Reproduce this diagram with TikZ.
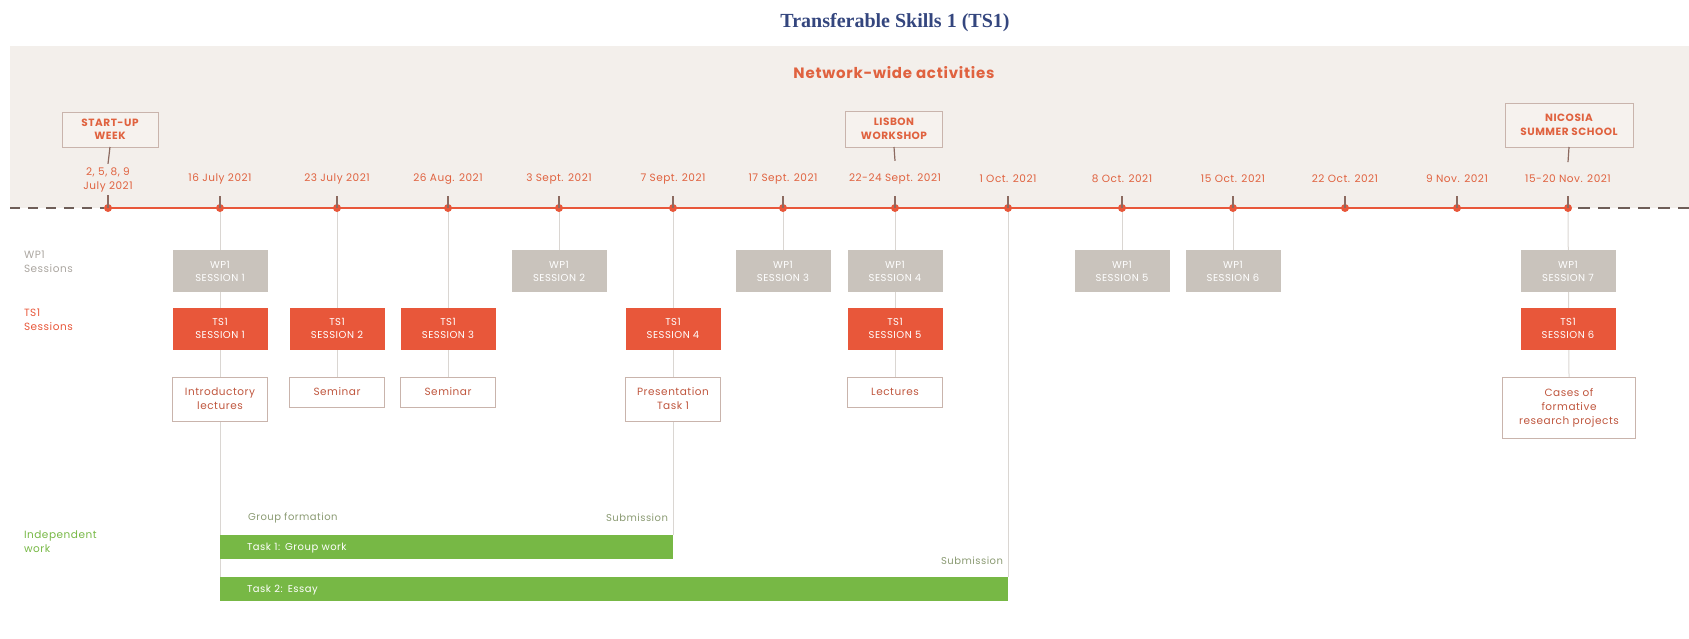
\documentclass[tikz,border=0pt]{standalone}
\usepackage{fontspec}
\setmainfont{Poppins}[LetterSpace=5]
\newfontfamily\titlefont{Liberation Serif}
\usetikzlibrary{positioning}
\pgfdeclarelayer{back}
\pgfdeclarelayer{lines}
\pgfsetlayers{back,lines,main}
\definecolor{tsorange}{HTML}{E8573A}
\definecolor{txtorange}{HTML}{E0623F}
\definecolor{wpgray}{HTML}{C9C3BC}
\definecolor{bgbeige}{HTML}{F3EFEB}
\definecolor{evfill}{HTML}{F6F2EE}
\definecolor{tgreen}{HTML}{77B845}
\definecolor{tblue}{HTML}{34467E}
\definecolor{vlinec}{HTML}{DAD6D2}
\definecolor{descbrd}{HTML}{C9B4AC}
\definecolor{desctxt}{HTML}{C0573F}
\definecolor{dashc}{HTML}{6E5E58}
\definecolor{tickc}{HTML}{8C6A60}
\definecolor{subc}{HTML}{8A9A72}
\begin{document}
\begin{tikzpicture}[x=1pt,y=-1pt,
  every node/.style={inner sep=0pt,outer sep=0pt},
  datelbl/.style={font=\fontsize{10.5}{14}\selectfont,text=txtorange,align=center},
  dot/.style={circle,fill=tsorange,minimum size=8pt},
  tickln/.style={draw=tickc,line width=1.2pt},
  evbox/.style={draw=descbrd,line width=1pt,fill=evfill,align=center,text=txtorange,font=\fontsize{10.5}{13.5}\selectfont\bfseries},
  wpbox/.style={fill=wpgray,minimum width=95pt,minimum height=42pt,text=white,align=center,font=\fontsize{10}{13}\selectfont},
  tsbox/.style={fill=tsorange,minimum width=95pt,minimum height=42pt,text=white,align=center,font=\fontsize{10}{13}\selectfont},
  descbox/.style={draw=descbrd,line width=1pt,fill=white,minimum width=95pt,align=center,text=desctxt,font=\fontsize{10.5}{14}\selectfont},
  rowlbl/.style={anchor=north west,align=left,font=\fontsize{10.5}{14}\selectfont},
  vline/.style={draw=vlinec,line width=1pt},
  bar/.style={fill=tgreen,anchor=north west,minimum height=24pt,text=white,font=\fontsize{10}{12}\selectfont,text depth=0pt},
  notelbl/.style={font=\fontsize{10}{12}\selectfont,text=subc}
]
\useasboundingbox (0,0) rectangle (1689,638);

% title
\node[font=\titlefont\fontsize{20}{24}\selectfont\bfseries,text=tblue] (title) at (895,23) {Transferable Skills 1 (TS1)};

% background band
\begin{pgfonlayer}{back}
\fill[bgbeige] (10,46) rectangle (1689,208);
\end{pgfonlayer}
\node[font=\fontsize{15}{18}\selectfont\bfseries,text=txtorange] (nw) at (894,73) {Network-wide activities};

% timeline dots
\foreach \i/\x in {0/108,1/220,2/337,3/448,4/559,5/673,6/783,7/895,8/1008,9/1122,10/1233,11/1345,12/1457,13/1568}{
  \node[dot] (t\i) at (\x,208) {};
}
\coordinate (lstart) at (10,208);
\coordinate (rend) at (1689,208);
\begin{pgfonlayer}{lines}
\draw[tsorange,line width=2.5pt] (t0.center) -- (t13.center);
\draw[dashc,line width=1.5pt,dash pattern=on 10pt off 8pt] (lstart) -- (t0.west);
\draw[dashc,line width=1.5pt,dash pattern=on 12pt off 8pt] (t13.east) ++(6,0) -- (rend);
\end{pgfonlayer}

% dates
\node[datelbl] (dl0) at (108,180) {2, 5, 8, 9\\July 2021};
\foreach \i/\x/\d in {1/220/16 July 2021,2/337/23 July 2021,3/448/26 Aug. 2021,4/559/3 Sept. 2021,5/673/7 Sept. 2021,6/783/17 Sept. 2021,7/895/22-24 Sept. 2021,8/1008/1 Oct. 2021,9/1122/8 Oct. 2021,10/1233/15 Oct. 2021,11/1345/22 Oct. 2021,12/1457/9 Nov. 2021,13/1568/15-20 Nov. 2021}{
  \node[datelbl] (dl\i) at (\x,179) {\d};
  \draw[tickln] (\x,196) -- (t\i.center);
}
\draw[tickln] ([yshift=-3pt]dl0.south) -- (t0.center);

% network events
\node[evbox,minimum width=96pt,minimum height=35pt] (ev0) at (110,129.5) {START-UP\\WEEK};
\node[evbox,minimum width=97pt,minimum height=36pt] (ev1) at (894,129) {LISBON\\WORKSHOP};
\node[evbox,minimum width=128pt,minimum height=44pt] (ev2) at (1569,125) {NICOSIA\\SUMMER SCHOOL};
\draw[tickln] (ev0.south) -- ([yshift=4pt]dl0.north);
\draw[tickln] (ev1.south) -- ([yshift=13pt]dl7.north);
\draw[tickln] (ev2.south) -- ([yshift=13pt]dl13.north);

% row labels
\node[rowlbl,text=wpgray!85!black] (lwp) at (24,251) {WP1\\Sessions};
\node[rowlbl,text=tsorange] (lts) at (24,309) {TS1\\Sessions};
\node[rowlbl,text=tgreen] (liw) at (24,531) {Independent\\work};

% WP1 sessions
\node[wpbox] (wp1) at (220,271) {WP1\\SESSION 1};
\node[wpbox] (wp2) at (559,271) {WP1\\SESSION 2};
\node[wpbox] (wp3) at (783,271) {WP1\\SESSION 3};
\node[wpbox] (wp4) at (895,271) {WP1\\SESSION 4};
\node[wpbox] (wp5) at (1122,271) {WP1\\SESSION 5};
\node[wpbox] (wp6) at (1233,271) {WP1\\SESSION 6};
\node[wpbox] (wp7) at (1568,271) {WP1\\SESSION 7};

% TS1 sessions
\node[tsbox] (ts1) at (220,328.5) {TS1\\SESSION 1};
\node[tsbox] (ts2) at (337,328.5) {TS1\\SESSION 2};
\node[tsbox] (ts3) at (448,328.5) {TS1\\SESSION 3};
\node[tsbox] (ts4) at (673,328.5) {TS1\\SESSION 4};
\node[tsbox] (ts5) at (895,328.5) {TS1\\SESSION 5};
\node[tsbox] (ts6) at (1568,328.5) {TS1\\SESSION 6};

% descriptions
\node[descbox,anchor=north,minimum height=44pt] (de1) at (220,377) {Introductory\\lectures};
\node[descbox,anchor=north,minimum height=30pt] (de2) at (337,377) {Seminar};
\node[descbox,anchor=north,minimum height=30pt] (de3) at (448,377) {Seminar};
\node[descbox,anchor=north,minimum height=44pt] (de4) at (673,377) {Presentation\\Task 1};
\node[descbox,anchor=north,minimum height=30pt] (de5) at (895,377) {Lectures};
\node[descbox,anchor=north,minimum width=133pt,minimum height=61pt] (de6) at (1569,377) {Cases of\\formative\\research projects};

% independent work bars
\node[bar,minimum width=453pt,text width=399pt,align=left] (task1) at (220,535) {Task 1: Group work};
\node[bar,minimum width=788pt,text width=734pt,align=left] (task2) at (220,577) {Task 2: Essay};
\node[notelbl,anchor=west] (gf) at (248,518) {Group formation};
\node[notelbl,anchor=east] (sub1) at (668,518) {Submission};
\node[notelbl,anchor=east] (sub2) at (1003,561) {Submission};

% vertical guide lines
\begin{pgfonlayer}{lines}
\draw[vline] (t1.center) -- (task2.north west);
\draw[vline] (t2.center) -- (de2.north);
\draw[vline] (t3.center) -- (de3.north);
\draw[vline] (t4.center) -- (wp2.north);
\draw[vline] (t5.center) -- (task1.north east);
\draw[vline] (t6.center) -- (wp3.north);
\draw[vline] (t7.center) -- (de5.north);
\draw[vline] (t8.center) -- (task2.north east);
\draw[vline] (t9.center) -- (wp5.north);
\draw[vline] (t10.center) -- (wp6.north);
\draw[vline] (t13.center) -- (de6.north);
\end{pgfonlayer}
\end{tikzpicture}
\end{document}
